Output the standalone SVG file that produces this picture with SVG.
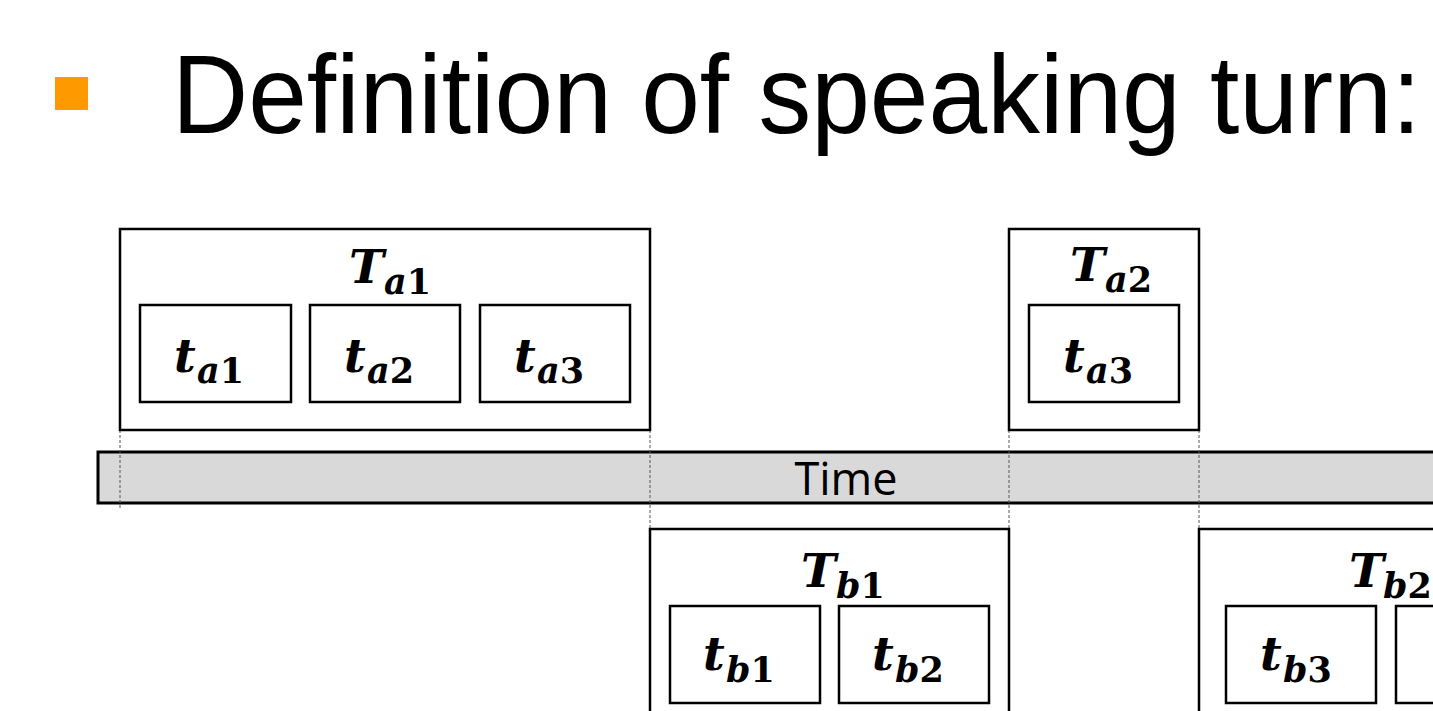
<svg xmlns="http://www.w3.org/2000/svg" width="1433" height="711" viewBox="0 0 1433 711">
  <style>
    .box { fill: #ffffff; stroke: #000000; stroke-width: 2.5; }
    .bar { fill: #d9d9d9; stroke: #000000; stroke-width: 3; }
    .guide { fill: none; stroke: #555555; stroke-width: 1; stroke-dasharray: 3 2; }
    .title { font-family: "Liberation Sans", Arial, sans-serif; font-size: 112px; fill: #000000; }
    .axis { font-family: "Open Sans", "Liberation Sans", sans-serif; font-size: 45px; fill: #000000; }
    .big { font-family: "DejaVu Serif", "Liberation Serif", serif; font-weight: bold; font-style: italic; font-size: 47px; fill: #000000; }
    .small { font-family: "DejaVu Serif", "Liberation Serif", serif; font-weight: bold; font-size: 35px; fill: #000000; }
    .it { font-style: italic; }
  </style>

  <!-- heading -->
  <g id="heading">
    <rect x="55" y="77" width="33" height="33" fill="#ff9900"/>
    <text class="title" transform="matrix(0.942 0 0 1 172 133)" x="0" y="0">Definition of speaking turn:</text>
  </g>

  <!-- time axis -->
  <g id="time-axis">
    <rect class="bar" x="98" y="452" width="1345" height="51"/>
    <text class="axis" x="846" y="495" text-anchor="middle">Time</text>
  </g>

  <!-- turn boundaries projected onto the time axis -->
  <g id="connectors">
    <line class="guide" x1="120" y1="430" x2="120" y2="508"/>
    <line class="guide" x1="650" y1="430" x2="650" y2="529"/>
    <line class="guide" x1="1009" y1="430" x2="1009" y2="529"/>
    <line class="guide" x1="1199" y1="430" x2="1199" y2="529"/>
  </g>

  <!-- speaker a, turn 1 -->
  <g id="turn-Ta1">
    <rect class="box" x="120" y="229" width="530" height="201"/>
    <text x="349" y="283"><tspan class="big">T</tspan><tspan class="small it" x="384" y="294">a</tspan><tspan class="small">1</tspan></text>
  </g>
  <g id="seg-ta1">
    <rect class="box" x="140" y="305" width="151" height="97"/>
    <text x="174" y="372"><tspan class="big">t</tspan><tspan class="small it" x="197" y="383">a</tspan><tspan class="small">1</tspan></text>
  </g>
  <g id="seg-ta2">
    <rect class="box" x="310" y="305" width="150" height="97"/>
    <text x="344" y="372"><tspan class="big">t</tspan><tspan class="small it" x="367" y="383">a</tspan><tspan class="small">2</tspan></text>
  </g>
  <g id="seg-ta3">
    <rect class="box" x="480" y="305" width="150" height="97"/>
    <text x="514" y="372"><tspan class="big">t</tspan><tspan class="small it" x="537" y="383">a</tspan><tspan class="small">3</tspan></text>
  </g>

  <!-- speaker a, turn 2 -->
  <g id="turn-Ta2">
    <rect class="box" x="1009" y="229" width="190" height="201"/>
    <text x="1070" y="281"><tspan class="big">T</tspan><tspan class="small it" x="1105" y="292">a</tspan><tspan class="small">2</tspan></text>
  </g>
  <g id="seg-ta3-b">
    <rect class="box" x="1029" y="305" width="150" height="97"/>
    <text x="1063" y="372"><tspan class="big">t</tspan><tspan class="small it" x="1086" y="383">a</tspan><tspan class="small">3</tspan></text>
  </g>

  <!-- speaker b, turn 1 -->
  <g id="turn-Tb1">
    <rect class="box" x="650" y="529" width="359" height="200"/>
    <text x="801" y="587"><tspan class="big">T</tspan><tspan class="small it" x="836" y="598">b</tspan><tspan class="small">1</tspan></text>
  </g>
  <g id="seg-tb1">
    <rect class="box" x="670" y="606" width="150" height="97"/>
    <text x="703" y="670"><tspan class="big">t</tspan><tspan class="small it" x="726" y="682">b</tspan><tspan class="small">1</tspan></text>
  </g>
  <g id="seg-tb2">
    <rect class="box" x="839" y="606" width="150" height="97"/>
    <text x="872" y="670"><tspan class="big">t</tspan><tspan class="small it" x="895" y="682">b</tspan><tspan class="small">2</tspan></text>
  </g>

  <!-- speaker b, turn 2 -->
  <g id="turn-Tb2">
    <rect class="box" x="1199" y="529" width="300" height="200"/>
    <text x="1349" y="587"><tspan class="big">T</tspan><tspan class="small it" x="1383" y="598">b</tspan><tspan class="small">2</tspan></text>
  </g>
  <g id="seg-tb3">
    <rect class="box" x="1226" y="606" width="150" height="97"/>
    <text x="1260" y="670"><tspan class="big">t</tspan><tspan class="small it" x="1283" y="682">b</tspan><tspan class="small">3</tspan></text>
  </g>
  <g id="seg-tb4">
    <rect class="box" x="1396" y="606" width="150" height="97"/>
  </g>
</svg>
